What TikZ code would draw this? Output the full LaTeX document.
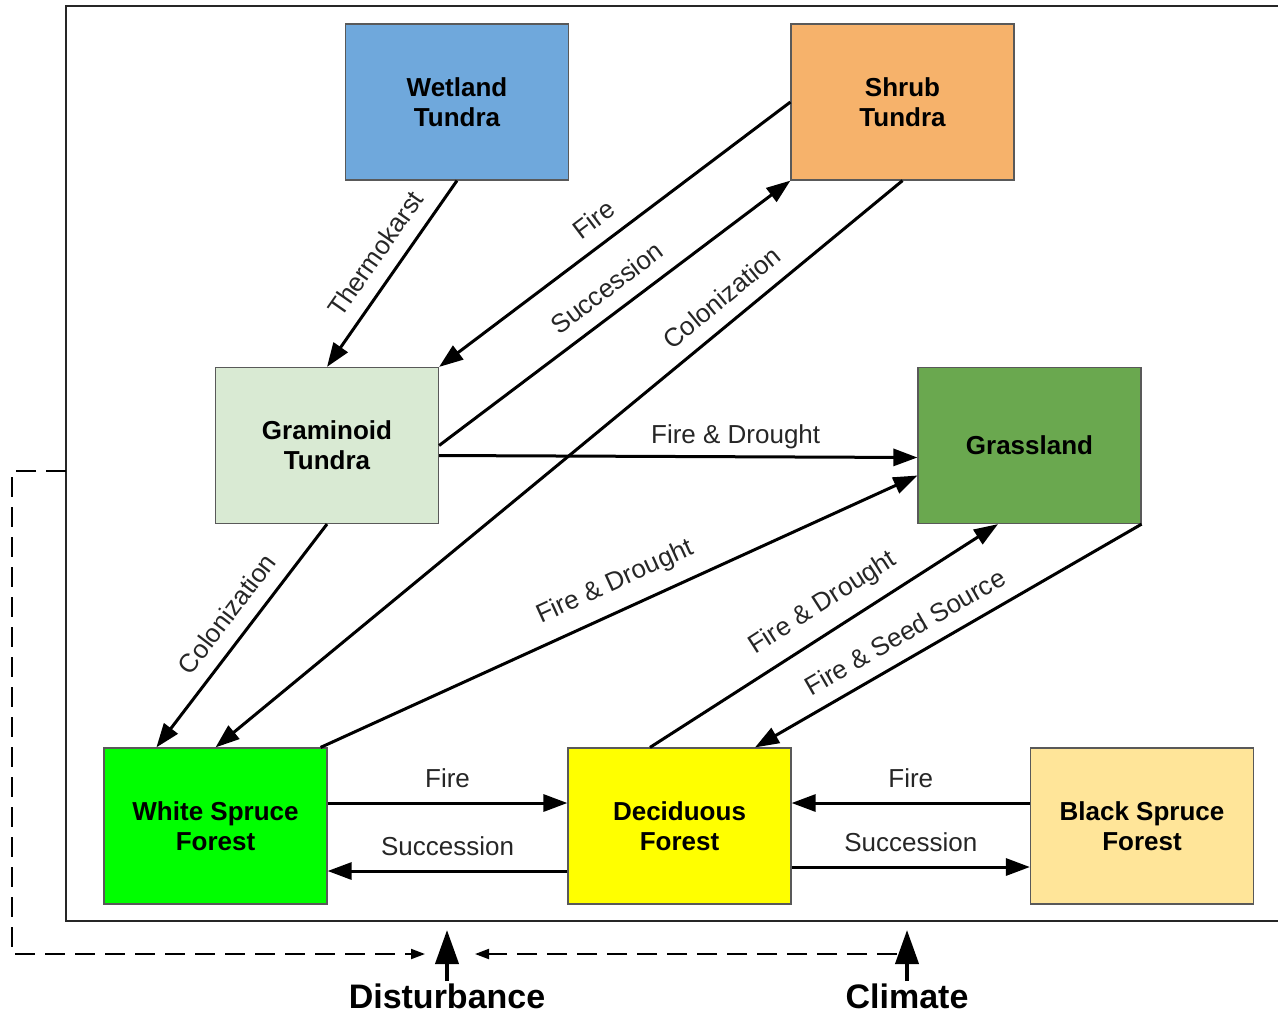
\documentclass[tikz,border=0pt]{standalone}
\usepackage{fontspec}
\setmainfont{Liberation Sans}
\usetikzlibrary{arrows.meta}
\definecolor{cwet}{HTML}{6FA8DC}
\definecolor{cshrub}{HTML}{F6B26B}
\definecolor{cgram}{HTML}{D9EAD3}
\definecolor{cgrass}{HTML}{6AA84F}
\definecolor{cws}{HTML}{00FF00}
\definecolor{cdec}{HTML}{FFFF00}
\definecolor{cbs}{HTML}{FFE599}
\tikzset{
  boxnode/.style={draw=black!65, line width=0.6pt, minimum width=111.5pt, minimum height=78pt,
    inner sep=0pt, align=center, font=\fontsize{13}{15}\selectfont\bfseries},
  conn/.style={line width=1.5pt, -{Triangle[length=12pt,width=8.5pt]}},
  lab/.style={font=\fontsize{13}{15}\selectfont, text=black!85, inner sep=3pt},
  slab/.style={lab, sloped, above=4pt},
  dashconn/.style={line width=1pt, dash pattern=on 10pt off 5pt, -{Triangle[length=7pt,width=5pt]}},
  bigup/.style={line width=2pt, -{Triangle[length=17pt,width=11.5pt]}},
  biglab/.style={font=\fontsize{17}{20}\selectfont\bfseries, inner sep=0pt, anchor=base}
}
\begin{document}
\begin{tikzpicture}[x=0.5pt,y=-0.5pt]
\useasboundingbox (0,0) rectangle (1278,1013);
% frame
\draw[line width=1.25pt, black!85] (1278,6) -- (66,6) -- (66,921) -- (1278,921);
% boxes
\node[boxnode, fill=cwet]   (wet)   at (457,102)   {Wetland\\Tundra};
\node[boxnode, fill=cshrub] (shrub) at (902.5,102) {Shrub\\Tundra};
\node[boxnode, fill=cgram]  (gram)  at (327,445.5) {Graminoid\\Tundra};
\node[boxnode, fill=cgrass] (grass) at (1029.5,445.5) {Grassland};
\node[boxnode, fill=cws]    (ws)    at (215.5,826) {White Spruce\\Forest};
\node[boxnode, fill=cdec]   (dec)   at (679.5,826) {Deciduous\\Forest};
\node[boxnode, fill=cbs]    (bs)    at (1142,826)  {Black Spruce\\Forest};
% connectors
\draw[conn] (wet.south) -- node[slab, pos=0.47] {Thermokarst} (gram.north);
\draw[conn] (shrub.west) -- node[slab, pos=0.518] {Fire} (gram.north east);
\draw[conn] (gram.east) -- node[slab, pos=0.52] {Succession} (shrub.south west);
\draw[conn] (shrub.south) -- node[slab, pos=0.24] {Colonization} (ws.north);
\draw[conn] ([yshift=-5pt]gram.east) -- node[lab, above, pos=0.62] {Fire \& Drought} ([yshift=-6pt]grass.west);
\draw[conn] (gram.south) -- node[slab, pos=0.47] {Colonization} ([xshift=26.5pt]ws.north west);
\draw[conn] ([xshift=-3.5pt]ws.north east) -- node[slab, pos=0.513] {Fire \& Drought} ([yshift=-15pt]grass.west);
\draw[conn] ([xshift=-14.75pt]dec.north) -- node[slab, pos=0.54] {Fire \& Drought} ([xshift=-15.75pt]grass.south);
\draw[conn] (grass.south east) -- node[slab, pos=0.58] {Fire \& Seed Source} ([xshift=37.75pt]dec.north);
\draw[conn] ([yshift=11.5pt]ws.east) -- node[lab, above=4pt] {Fire} ([yshift=11.5pt]dec.west);
\draw[conn] ([yshift=-22.5pt]dec.west) -- node[lab, above=4pt] {Succession} ([yshift=-22.5pt]ws.east);
\draw[conn] ([yshift=11.5pt]bs.west) -- node[lab, above=4pt] {Fire} ([yshift=11.5pt]dec.east);
\draw[conn] ([yshift=-20.5pt]dec.east) -- node[lab, above=4pt] {Succession} ([yshift=-20.5pt]bs.west);
% bottom drivers
\coordinate (fl) at (66,471);
\coordinate (c1) at (12,471);
\coordinate (c2) at (12,954);
\coordinate (dend) at (425,954);
\coordinate (cstart) at (897,954);
\coordinate (cend) at (475,954);
\draw[dashconn] (fl) -- (c1) -- (c2) -- (dend);
\draw[dashconn] (cstart) -- (cend);
\node[biglab] (dist) at (447,1008) {Disturbance};
\node[biglab] (clim) at (907,1008) {Climate};
\coordinate (db) at (447,981);
\coordinate (dt) at (447,930);
\coordinate (cb) at (907,981);
\coordinate (ct) at (907,930);
\draw[bigup] (db) -- (dt);
\draw[bigup] (cb) -- (ct);
\end{tikzpicture}
\end{document}
